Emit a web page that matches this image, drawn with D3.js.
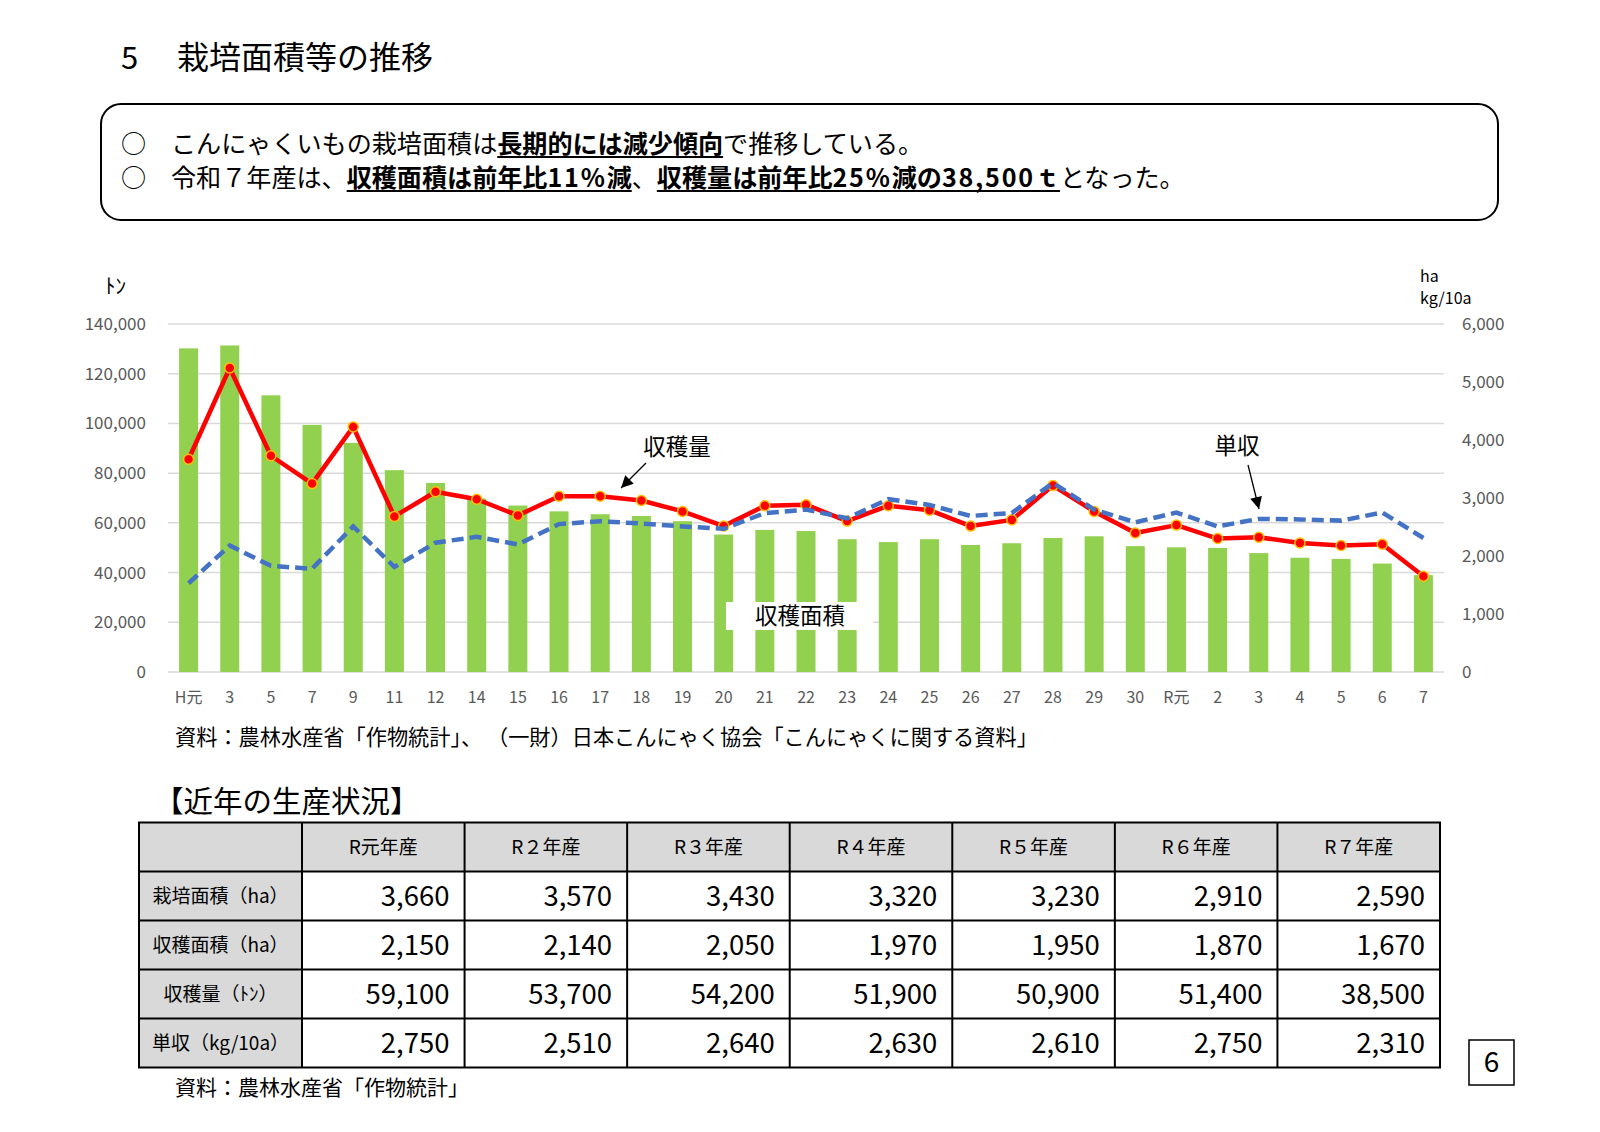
<!DOCTYPE html>
<html><head><meta charset="utf-8">
<script src="https://cdn.jsdelivr.net/npm/d3@7"></script>
<style>
body{margin:0;background:#fff}
svg{display:block}
text{font-family:"Noto Sans CJK JP","Noto Sans",sans-serif}
</style>
</head><body>
<svg id="c" width="1600" height="1132"></svg>
<script>
// ---- chart data ----
const years = ["H元","3","5","7","9","11","12","14","15","16","17","18","19","20","21","22","23","24","25","26","27","28","29","30","R元","2","3","4","5","6","7"];
const harvestArea = [5580,5630,4770,4260,3950,3480,3260,2990,2870,2770,2720,2690,2600,2370,2450,2430,2290,2240,2290,2190,2220,2310,2340,2170,2150,2140,2050,1970,1950,1870,1670];
const production = [85600,122300,87000,75800,98600,62600,72500,69500,63000,70700,70700,69000,64600,58700,66900,67300,60700,66900,65100,58700,61200,75000,64600,55900,59100,53700,54200,51900,50900,51400,38500];
const yieldPer10a = [1530,2180,1830,1780,2510,1810,2230,2330,2200,2550,2600,2560,2510,2470,2740,2800,2650,2980,2880,2690,2740,3260,2800,2580,2750,2510,2640,2630,2610,2750,2310];
const leftTicks = [0,20000,40000,60000,80000,100000,120000,140000];
const rightTicks = [0,1000,2000,3000,4000,5000,6000];

// ---- table data ----
const tableCols = ["R元年産","R２年産","R３年産","R４年産","R５年産","R６年産","R７年産"];
const rowLabels = ["栽培面積（ha）","収穫面積（ha）","収穫量（ﾄﾝ）","単収（kg/10a）"];
const plantedArea = [3660,3570,3430,3320,3230,2910,2590];
const tableHarvestArea = [2150,2140,2050,1970,1950,1870,1670];
const tableProduction = [59100,53700,54200,51900,50900,51400,38500];
const tableYield = [2750,2510,2640,2630,2610,2750,2310];

const FONT = '"Noto Sans CJK JP","Noto Sans",sans-serif';
const svg = d3.select("#c");
svg.append("rect").attr("width",1600).attr("height",1132).attr("fill","#fff");

// ---- title ----
svg.append("text").attr("x",121).attr("y",69).attr("font-size",31).attr("fill","#000").text("5");
svg.append("text").attr("x",177).attr("y",69).attr("font-size",32).attr("fill","#000").text("栽培面積等の推移");

// ---- summary box ----
svg.append("rect").attr("x",101).attr("y",104).attr("width",1397).attr("height",116)
  .attr("rx",20).attr("fill","none").attr("stroke","#000").attr("stroke-width",2);

const lines = [
  {y:153, parts:[["こんにゃくいもの栽培面積は",false],["長期的には減少傾向",true],["で推移している。",false]]},
  {y:187, parts:[["令和７年産は、",false],["収穫面積は前年比11%減",true],["、",false],["収穫量は前年比25%減の38,500ｔ",true],["となった。",false]]}
];
const fs = 25.1;
lines.forEach(l=>{
  svg.append("text").attr("x",121).attr("y",l.y).attr("font-size",fs).text("○");
  const t = svg.append("text").attr("x",171).attr("y",l.y).attr("font-size",fs).attr("fill","#000");
  l.parts.forEach(p=>{
    const ts = t.append("tspan").attr("font-weight",p[1]?"bold":"normal");
    const runs = p[0].match(/[0-9%,]+|[^0-9%,]+/g);
    runs.forEach(r=>{
      const s = ts.append("tspan").text(r);
      if(/[0-9]/.test(r)) s.attr("letter-spacing",1.8);
    });
    if(p[1]) ts.classed("ul",true);
  });
  t.selectAll("tspan.ul").each(function(){
    const x0 = this.getStartPositionOfChar(0).x;
    const n = this.getNumberOfChars();
    const ext = this.getExtentOfChar(n-1);
    const x1 = ext.x+ext.width;
    svg.append("line").attr("x1",x0).attr("x2",x1)
      .attr("y1",l.y+4).attr("y2",l.y+4).attr("stroke","#000").attr("stroke-width",2);
  });
});

// ---- chart ----
const plotL=168, plotR=1444, plotT=324, plotB=672;
const x = d3.scaleBand().domain(d3.range(years.length)).range([plotL,plotR]).padding(0);
const cx = i => x(i)+x.bandwidth()/2;
const yL = d3.scaleLinear().domain([0,140000]).range([plotB,plotT]);
const yR = d3.scaleLinear().domain([0,6000]).range([plotB,plotT]);
const barW = 19;

svg.append("g").selectAll("line").data(leftTicks).join("line")
  .attr("x1",plotL).attr("x2",plotR).attr("y1",d=>yL(d)).attr("y2",d=>yL(d))
  .attr("stroke","#d9d9d9").attr("stroke-width",1.5);

const axL = svg.append("g").attr("transform",`translate(${plotL},0)`)
  .call(d3.axisLeft(yL).tickValues(leftTicks).tickSize(0).tickPadding(22).tickFormat(d3.format(",")));
const axR = svg.append("g").attr("transform",`translate(${plotR},0)`)
  .call(d3.axisRight(yR).tickValues(rightTicks).tickSize(0).tickPadding(18).tickFormat(d3.format(",")));
const axB = svg.append("g").attr("transform",`translate(0,${plotB})`)
  .call(d3.axisBottom(x).tickSize(0).tickPadding(20).tickFormat(i=>years[i]));
[axL,axR,axB].forEach(a=>{
  a.select(".domain").remove();
  a.selectAll("text").attr("font-size",a===axB?16:17).attr("fill","#595959").attr("font-family",FONT);
});

svg.append("g").selectAll("rect").data(harvestArea).join("rect")
  .attr("x",(d,i)=>cx(i)-barW/2).attr("width",barW)
  .attr("y",d=>yR(d)).attr("height",d=>plotB-yR(d))
  .attr("fill","#92d050");

const lineL = d3.line().x((d,i)=>cx(i)).y(d=>yL(d));
svg.append("path").datum(production).attr("d",lineL)
  .attr("fill","none").attr("stroke","#ff0000").attr("stroke-width",4.5).attr("stroke-linejoin","round");
svg.append("g").selectAll("circle").data(production).join("circle")
  .attr("cx",(d,i)=>cx(i)).attr("cy",d=>yL(d)).attr("r",5)
  .attr("fill","#ff0000").attr("stroke","#ffc000").attr("stroke-width",1.5);

const lineR = d3.line().x((d,i)=>cx(i)).y(d=>yR(d));
svg.append("path").datum(yieldPer10a).attr("d",lineR)
  .attr("fill","none").attr("stroke","#4472c4").attr("stroke-width",4.5).attr("stroke-dasharray","12,6");

svg.append("text").attr("x",105).attr("y",293).attr("font-size",21).text("ﾄﾝ");
svg.append("text").attr("x",1420).attr("y",282).attr("font-size",16).text("ha");
svg.append("text").attr("x",1420).attr("y",304).attr("font-size",16).text("kg/10a");

const defs = svg.append("defs");
defs.append("marker").attr("id","arr").attr("viewBox","0 0 10 10").attr("refX",10).attr("refY",5)
  .attr("markerWidth",13).attr("markerHeight",12).attr("markerUnits","userSpaceOnUse").attr("orient","auto")
  .append("path").attr("d","M0,0L10,5L0,10Z").attr("fill","#000");
svg.append("text").attr("x",677).attr("y",455).attr("font-size",22.5).attr("text-anchor","middle").text("収穫量");
svg.append("line").attr("x1",646).attr("y1",463).attr("x2",621).attr("y2",488)
  .attr("stroke","#000").attr("stroke-width",1.3).attr("marker-end","url(#arr)");
svg.append("text").attr("x",1237).attr("y",454).attr("font-size",22.5).attr("text-anchor","middle").text("単収");
svg.append("line").attr("x1",1248).attr("y1",465).attr("x2",1259).attr("y2",509)
  .attr("stroke","#000").attr("stroke-width",1.3).attr("marker-end","url(#arr)");
svg.append("rect").attr("x",726).attr("y",602).attr("width",147).attr("height",28).attr("fill","#fff");
svg.append("text").attr("x",800).attr("y",624).attr("font-size",22.5).attr("text-anchor","middle").text("収穫面積");

svg.append("text").attr("x",175).attr("y",745).attr("font-size",21.2).attr("xml:space","preserve")
  .text("資料：農林水産省「作物統計」、 （一財）日本こんにゃく協会「こんにゃくに関する資料」");

// ---- table ----
svg.append("text").attr("x",154).attr("y",812).attr("font-size",29.5).text("【近年の生産状況】");
const tL=139, tR=1440, tT=822.5, rowH=49, firstW=163;
const colX = d3.scaleBand().domain(d3.range(tableCols.length)).range([tL+firstW,tR]).padding(0);
const rowY = d3.scaleBand().domain(d3.range(rowLabels.length+1)).range([tT,tT+rowH*5]).padding(0);
const tbl = svg.append("g");
tbl.append("rect").attr("x",tL).attr("y",tT).attr("width",tR-tL).attr("height",rowY.bandwidth()).attr("fill","#d9d9d9");
tbl.append("rect").attr("x",tL).attr("y",tT).attr("width",firstW).attr("height",rowH*5).attr("fill","#d9d9d9");
tbl.selectAll("text.h").data(tableCols).join("text").attr("class","h")
  .attr("x",(d,i)=>colX(i)+colX.bandwidth()/2).attr("y",rowY(0)+rowH/2+6.5)
  .attr("font-size",19).attr("text-anchor","middle").attr("fill","#000").text(d=>d);
tbl.selectAll("text.r").data(rowLabels).join("text").attr("class","r")
  .attr("x",tL+firstW/2).attr("y",(d,i)=>rowY(i+1)+rowH/2+6.5)
  .attr("font-size",19).attr("text-anchor","middle").attr("fill","#000").text(d=>d);
const rows = [plantedArea, tableHarvestArea, tableProduction, tableYield];
const fmt = d3.format(",");
rows.forEach((r,ri)=>{
  tbl.append("g").selectAll("text").data(r).join("text")
    .attr("x",(d,i)=>colX(i)+colX.bandwidth()-15).attr("y",rowY(ri+1)+rowH/2+10)
    .attr("font-size",27.5).attr("text-anchor","end").attr("fill","#000").text(d=>fmt(d));
});
const vx = [tL, ...d3.range(tableCols.length).map(i=>colX(i)), tR];
tbl.selectAll("line.v").data(vx).join("line").attr("class","v")
  .attr("x1",d=>d).attr("x2",d=>d).attr("y1",tT).attr("y2",tT+rowH*5)
  .attr("stroke","#000").attr("stroke-width",2);
const hy = d3.range(6).map(i=>tT+i*rowH);
tbl.selectAll("line.hz").data(hy).join("line").attr("class","hz")
  .attr("x1",tL-1).attr("x2",tR+1).attr("y1",d=>d).attr("y2",d=>d)
  .attr("stroke","#000").attr("stroke-width",2);

svg.append("text").attr("x",175).attr("y",1095).attr("font-size",21).text("資料：農林水産省「作物統計」");

svg.append("rect").attr("x",1469).attr("y",1040).attr("width",45).attr("height",45)
  .attr("fill","none").attr("stroke","#000").attr("stroke-width",1.5);
svg.append("text").attr("x",1491.5).attr("y",1072).attr("font-size",28).attr("text-anchor","middle").text("6");
</script>
</body></html>
